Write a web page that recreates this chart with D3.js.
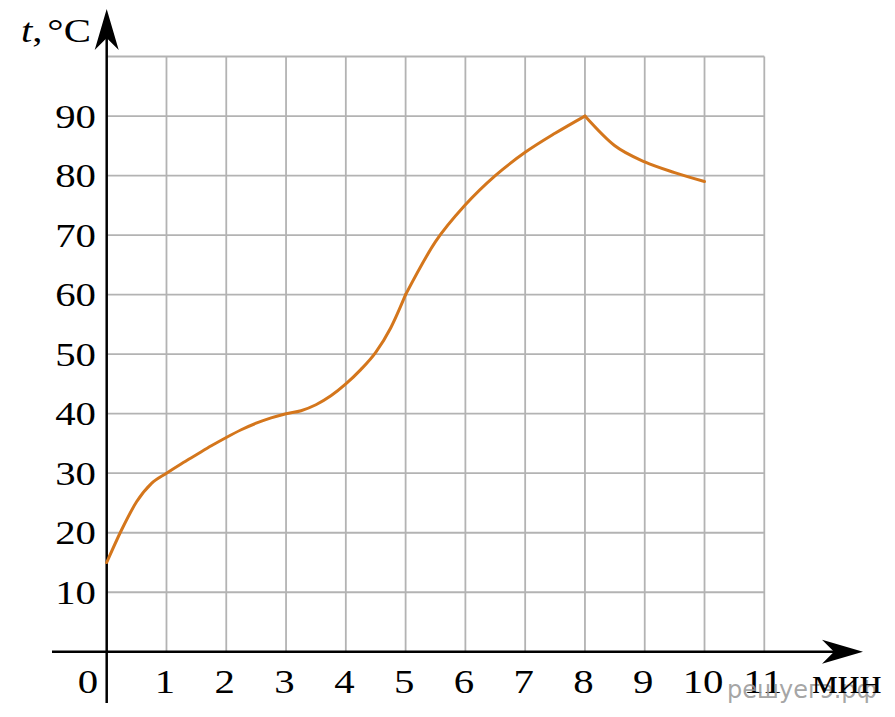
<!DOCTYPE html>
<html><head><meta charset="utf-8">
<script src="https://cdn.jsdelivr.net/npm/d3@7"></script>
<style>body{margin:0;background:#fff}svg{display:block}
text.s{font-family:"Liberation Serif","Times New Roman","DejaVu Serif",serif}</style>
</head><body>
<svg id="c" width="895" height="717"></svg>
<script>
// Data
const timeMin = [0,0.25,0.5,0.75,1,1.25,1.5,1.75,2,2.25,2.5,2.75,3,3.25,3.5,3.75,4,4.25,4.5,4.75,5,
                 5.5,6,6.5,7,7.5,8,8.5,9,9.5,10];
const tempC   = [15,20.5,25.2,28.3,30,31.6,33.1,34.6,36,37.3,38.4,39.3,40,40.5,41.5,43,45,47.4,50.3,54.4,60,
                 68.9,75.1,80,83.9,87.1,90,85,82.3,80.5,79];
const kinks = [5,8];
const xTicks = [1,2,3,4,5,6,7,8,9,10,11];
const yTicks = [10,20,30,40,50,60,70,80,90];
const gridX = [1,2,3,4,5,6,7,8,9,10,11];
const gridY = [10,20,30,40,50,60,70,80,90,100];

const svg = d3.select("#c");
const x = d3.scaleLinear().domain([0,11]).range([106.7,764.3]);
const y = d3.scaleLinear().domain([0,100]).range([651.8,56.5]);
const SX = 1.2, FS = 34;

// grid
svg.append("g").selectAll("line").data(gridX).join("line")
  .attr("x1",d=>x(d)).attr("x2",d=>x(d)).attr("y1",y(0)).attr("y2",y(100))
  .attr("stroke","#b3b3b3").attr("stroke-width",1.8);
svg.append("g").selectAll("line").data(gridY).join("line")
  .attr("x1",x(0)).attr("x2",x(11)).attr("y1",d=>y(d)).attr("y2",d=>y(d))
  .attr("stroke","#b3b3b3").attr("stroke-width",1.8);

// axes
const ax = svg.append("g").attr("stroke","#000").attr("stroke-width",2.5);
ax.append("line").attr("x1",52).attr("x2",845).attr("y1",y(0)).attr("y2",y(0));
ax.append("line").attr("x1",x(0)).attr("x2",x(0)).attr("y1",703).attr("y2",28);
const y0 = y(0), x0 = x(0);
svg.append("path").attr("fill","#000")
  .attr("d",`M863,${y0} L822,${y0-12} L834,${y0} L822,${y0+12} Z`);
svg.append("path").attr("fill","#000")
  .attr("d",`M${x0},9 L${x0-12},50 L${x0},38 L${x0+12},50 Z`);

// curve, split into smooth monotone pieces at the kinks
const pts = timeMin.map((t,i)=>[t,tempC[i]]);
const bounds = [0, ...kinks, 10];
const line = d3.line().x(d=>x(d[0])).y(d=>y(d[1])).curve(d3.curveMonotoneX);
for (let k = 0; k < bounds.length-1; k++) {
  const seg = pts.filter(p => p[0] >= bounds[k] && p[0] <= bounds[k+1]);
  svg.append("path").attr("d",line(seg)).attr("fill","none")
    .attr("stroke","#d4761c").attr("stroke-width",3).attr("stroke-linejoin","round").attr("stroke-linecap","round");
}

// text helper: horizontally widened serif text like the reference
function label(px, py, anchor) {
  return svg.append("text").attr("class","s").attr("font-size",FS)
    .attr("text-anchor",anchor).attr("transform",`translate(${px},${py}) scale(${SX},1)`);
}
yTicks.forEach(d => label(96, y(d)+11.5, "end").text(d));
xTicks.forEach(d => label(x(d)-1.5, 693, "middle").text(d));
label(88, 693, "middle").text("0");

// watermark
svg.append("text").attr("x",727).attr("y",698)
  .style("font-family","'DejaVu Sans',sans-serif").attr("font-size",24)
  .attr("fill","#9a9a9a").attr("fill-opacity",0.9).text("решуегэ.рф");

label(812, 693, "start").text("мин");

// y label
const yl = label(21, 42, "start");
yl.append("tspan").attr("font-style","italic").text("t");
yl.append("tspan").text(",");
yl.append("tspan").attr("dx",4).text("°C");
</script>
</body></html>
